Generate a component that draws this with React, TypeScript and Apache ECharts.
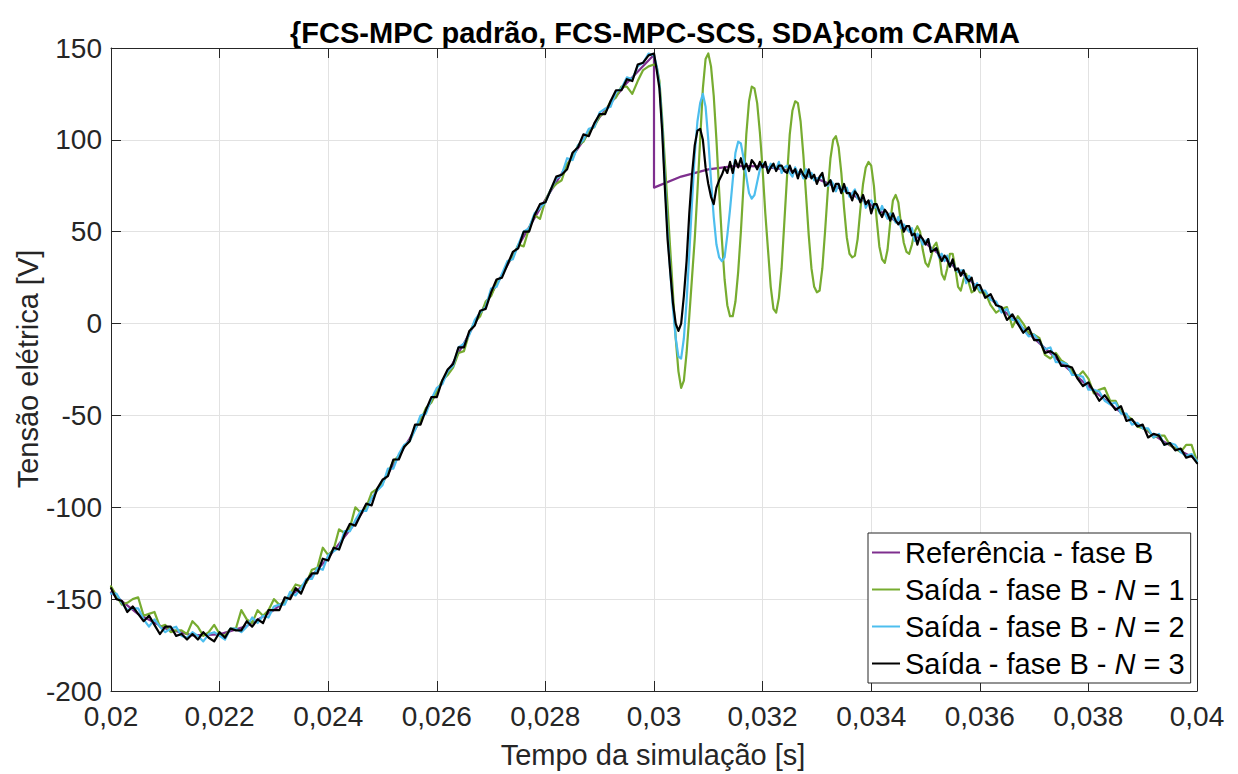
import React, { useEffect, useRef } from "react";
import * as echarts from "echarts";

const FONT = '"Liberation Sans", Arial, Helvetica, sans-serif';

// ---- sampling grids (seconds) ----
const GRID_A = { start: 0.02, step: 0.0001, count: 100 };
const GRID_B = { start: 0.03, step: 0.00005, count: 120 };
const GRID_C = { start: 0.036, step: 0.0001, count: 41 };
const REF_PRE = { start: 0.02, step: 0.0005, count: 21 };
const REF_POST = { start: 0.03, step: 0.0005, count: 21 };

// ---- reference (V) ----
const refPreValues = [
  -146.3, -158.1, -165.9, -169.7, -169.2, -164.7, -156.0, -143.5, -127.5, -108.4, -86.5,
  -62.6, -37.1, -10.7, 16.0, 42.3, 67.5, 91.1, 112.4, 131.0, 146.3,
];
const refPostValues = [
  74.0, 80.0, 83.9, 85.8, 85.6, 83.3, 78.9, 72.6, 64.5, 54.8, 43.8,
  31.7, 18.8, 5.4, -8.1, -21.4, -34.2, -46.1, -56.9, -66.3, -74.0,
];

// ---- N = 1 (green) ----
const greenA = [
  -143, -148, -153, -152, -150, -149, -159, -158, -157, -165,
  -164, -168, -167, -167, -169, -162, -165, -170, -168, -164,
  -169, -170, -166, -166, -156, -161, -163, -156, -159, -156,
  -150, -153, -152, -147, -142, -143, -141, -134, -133, -122,
  -126, -123, -112, -114, -111, -100, -103, -100, -92, -90,
  -87, -81, -75, -72, -67, -64, -57, -53, -46, -43,
  -37, -31, -28, -24, -16, -15, -5, 1, 4, 12,
  15, 22, 26, 33, 36, 43, 42, 52, 59, 57,
  67, 73, 76, 78, 87, 90, 97, 99, 105, 107,
  113, 115, 121, 123, 129, 129, 125, 132, 138, 140,
];
const greenB = [
  141, 140, 132, 112, 88, 64, 40, 16, -8, -26,
  -35, -31, -16, 4, 25, 46, 72, 100, 128, 144,
  147, 140, 124, 100, 72, 46, 24, 10, 4, 4,
  12, 28, 50, 76, 103, 121, 129, 128, 120, 104,
  84, 60, 40, 20, 8, 6, 14, 30, 55, 80,
  103, 116, 121, 120, 110, 92, 70, 48, 30, 20,
  17, 18, 30, 50, 72, 90, 100, 102, 96, 82,
  63, 47, 38, 36, 37, 46, 62, 76, 85, 88,
  86, 75, 57, 42, 35, 33, 40, 55, 67, 70,
  66, 54, 44, 39, 38, 43, 50, 53, 50, 40,
  33, 31, 36, 42, 44, 38, 27, 24, 30, 38,
  38, 30, 20, 18, 24, 27, 22, 17, 18, 20,
];
const greenC = [
  17, 17, 10, 6, 8, 9, -2, 4, 0, -5,
  -6, -8, -17, -19, -16, -20, -22, -26, -29, -26,
  -30, -38, -36, -35, -42, -42, -48, -50, -52, -56,
  -57, -58, -62, -61, -61, -66, -68, -70, -66, -66,
  -75,
];

// ---- N = 2 (blue) ----
const blueA = [
  -147, -147, -152, -156, -155, -155, -161, -165, -161, -165,
  -168, -166, -165, -170, -171, -168, -170, -173, -169, -168,
  -170, -172, -166, -166, -168, -165, -160, -163, -159, -160,
  -154, -153, -153, -146, -148, -144, -139, -139, -133, -134,
  -126, -124, -122, -113, -113, -107, -102, -102, -95, -91,
  -88, -79, -79, -71, -66, -64, -58, -50, -49, -41,
  -35, -33, -26, -23, -13, -11, -6, 2, 6, 9,
  19, 20, 27, 34, 35, 43, 50, 52, 60, 63,
  66, 73, 79, 81, 90, 89, 97, 100, 106, 107,
  115, 117, 118, 126, 128, 134, 133, 140, 142, 147,
];
const blueB = [
  146, 140, 130, 108, 78, 50, 28, 8, -8, -18,
  -19, -8, 12, 38, 66, 92, 110, 120, 125, 118,
  100, 78, 58, 43, 36, 34, 36, 48, 62, 78,
  93, 99, 98, 90, 80, 71, 68, 70, 77, 84,
  87, 87, 83, 87, 85, 84, 88, 82, 85, 86,
  82, 80, 85, 82, 83, 79, 84, 80, 82, 78,
  79, 79, 81, 76, 75, 78, 76, 72, 76, 73,
  72, 74, 69, 71, 73, 68, 68, 69, 63, 66,
  67, 63, 64, 60, 64, 60, 57, 60, 58, 55,
  58, 52, 54, 52, 50, 52, 45, 49, 47, 43,
  45, 46, 40, 40, 41, 36, 38, 34, 37, 31,
  34, 30, 28, 29, 29, 22, 26, 24, 20, 22,
];
const blueC = [
  18, 18, 13, 12, 6, 8, 2, 2, -3, -7,
  -6, -10, -14, -13, -21, -21, -22, -28, -28, -29,
  -36, -36, -37, -42, -44, -43, -49, -49, -55, -54,
  -57, -57, -62, -60, -66, -65, -66, -70, -72, -71,
  -75,
];

// ---- N = 3 (black) ----
const blackA = [
  -144, -150, -151, -157, -154, -158, -162, -159, -164, -169,
  -165, -165, -170, -169, -172, -169, -172, -168, -171, -173,
  -168, -171, -166, -167, -167, -162, -165, -161, -163, -156,
  -156, -156, -149, -150, -144, -147, -140, -136, -136, -128,
  -129, -122, -123, -115, -109, -110, -104, -98, -99, -90,
  -85, -83, -74, -74, -67, -64, -55, -55, -47, -40,
  -40, -31, -25, -22, -13, -13, -4, -1, 7, 8,
  17, 24, 25, 32, 39, 41, 50, 50, 59, 65,
  66, 73, 80, 81, 84, 93, 96, 103, 102, 109,
  114, 114, 121, 127, 127, 133, 132, 141, 142, 146,
];
const blackB = [
  147, 138, 128, 105, 74, 46, 28, 11, 0, -4,
  0, 15, 34, 60, 81, 97, 105, 106, 100, 85,
  76, 69, 65, 74, 78, 81, 85, 82, 88, 82,
  89, 85, 90, 84, 87, 83, 89, 87, 84, 88,
  85, 88, 82, 85, 87, 83, 86, 86, 83, 82,
  86, 82, 84, 79, 84, 81, 79, 84, 79, 81,
  76, 80, 82, 75, 76, 78, 72, 76, 76, 71,
  76, 71, 71, 67, 72, 70, 66, 70, 65, 67,
  60, 65, 65, 61, 58, 62, 60, 56, 60, 56,
  54, 56, 50, 53, 53, 48, 49, 43, 48, 46,
  43, 46, 39, 40, 41, 37, 34, 37, 35, 31,
  35, 29, 30, 26, 29, 25, 23, 25, 18, 21,
];
const blackC = [
  21, 14, 16, 10, 9, 2, 5, 0, -5, -2,
  -9, -9, -16, -15, -17, -23, -23, -24, -30, -34,
  -32, -37, -42, -39, -43, -47, -45, -53, -52, -56,
  -55, -62, -60, -61, -66, -65, -69, -68, -73, -72,
  -76,
];

// ---- axes ----
const X_MIN = 0.02;
const X_MAX = 0.04;
const X_STEP = 0.002;
const Y_MIN = -200;
const Y_MAX = 150;
const Y_STEP = 50;

const TITLE = "{FCS-MPC padrão, FCS-MPC-SCS, SDA}com CARMA";
const X_NAME = "Tempo da simulação [s]";
const Y_NAME = "Tensão elétrica [V]";
const NAMES = [
  "Referência - fase B",
  "Saída - fase B - N = 1",
  "Saída - fase B - N = 2",
  "Saída - fase B - N = 3",
];
const COLORS = ["#7E2F8E", "#77AC30", "#4DBEEE", "#000000"];

function grid(g: { start: number; step: number; count: number }) {
  const out: number[] = [];
  for (let i = 0; i < g.count; i++) out.push(+(g.start + i * g.step).toFixed(6));
  return out;
}
function zip(t: number[], v: number[]) {
  return t.map((x, i) => [x, v[i]]);
}

const outTime = [...grid(GRID_A), ...grid(GRID_B), ...grid(GRID_C)];
const refData = [...zip(grid(REF_PRE), refPreValues), ...zip(grid(REF_POST), refPostValues)];
const greenData = zip(outTime, [...greenA, ...greenB, ...greenC]);
const blueData = zip(outTime, [...blueA, ...blueB, ...blueC]);
const blackData = zip(outTime, [...blackA, ...blackB, ...blackC]);

export default function App() {
  const ref = useRef<HTMLDivElement>(null);
  useEffect(() => {
    if (!ref.current) return;
    const chart = echarts.init(ref.current, undefined, { renderer: "svg" });
    const axisColor = "#262626";
    const gridColor = "#e2e2e2";
    const xFmt = (v: number) => String(parseFloat(v.toFixed(4))).replace(".", ",");
    const baseX = {
      type: "value",
      min: X_MIN,
      max: X_MAX,
      interval: X_STEP,
      axisLine: { show: true, onZero: false, lineStyle: { color: axisColor, width: 1 } },
      axisTick: { show: true, inside: true, length: 10, lineStyle: { color: axisColor } },
    };
    const baseY = {
      type: "value",
      min: Y_MIN,
      max: Y_MAX,
      interval: Y_STEP,
      axisLine: { show: true, onZero: false, lineStyle: { color: axisColor, width: 1 } },
      axisTick: { show: true, inside: true, length: 10, lineStyle: { color: axisColor } },
    };
    const mkSeries = (i: number, data: number[][]) => ({
      name: NAMES[i],
      type: "line",
      data,
      symbol: "none",
      showSymbol: false,
      xAxisIndex: 0,
      yAxisIndex: 0,
      lineStyle: { color: COLORS[i], width: 2.2, join: "round", cap: "round" },
      itemStyle: { color: COLORS[i] },
      z: 2 + i,
    });
    chart.setOption({
      animation: false,
      backgroundColor: "#ffffff",
      grid: { left: 111, right: 41, top: 48, bottom: 83, containLabel: false },
      xAxis: [
        {
          ...baseX,
          position: "bottom",
          axisLabel: { fontSize: 28, fontFamily: FONT, color: axisColor, margin: 11, formatter: xFmt },
          splitLine: { show: true, lineStyle: { color: gridColor, width: 1 } },
        },
        {
          ...baseX,
          position: "top",
          axisLabel: { show: false },
          splitLine: { show: false },
        },
      ],
      yAxis: [
        {
          ...baseY,
          position: "left",
          axisLabel: { fontSize: 28, fontFamily: FONT, color: axisColor, margin: 9 },
          splitLine: { show: true, lineStyle: { color: gridColor, width: 1 } },
        },
        {
          ...baseY,
          position: "right",
          axisLabel: { show: false },
          splitLine: { show: false },
        },
      ],
      legend: {
        show: true,
        orient: "vertical",
        left: 868,
        top: 533,
        data: NAMES,
        icon: "rect",
        itemWidth: 28,
        itemHeight: 2,
        itemGap: 0,
        padding: [1, 6, 1, 4],
        backgroundColor: "#ffffff",
        borderColor: axisColor,
        borderWidth: 1,
        borderRadius: 0,
        formatter: (name: string) => name.replace("N =", "{i|N} ="),
        textStyle: {
          fontSize: 29,
          fontFamily: FONT,
          color: "#000000",
          lineHeight: 37,
          rich: {
            i: { fontSize: 29, fontFamily: FONT, fontStyle: "italic", color: "#000000", lineHeight: 37 },
          },
        },
      },
      graphic: [
        {
          type: "text",
          x: 655,
          y: 33,
          style: {
            text: TITLE,
            font: `bold 29px ${FONT}`,
            fill: "#000000",
            textAlign: "center",
            textVerticalAlign: "middle",
          },
        },
        {
          type: "text",
          x: 653,
          y: 755,
          style: {
            text: X_NAME,
            font: `29px ${FONT}`,
            fill: axisColor,
            textAlign: "center",
            textVerticalAlign: "middle",
          },
        },
        {
          type: "text",
          x: 28,
          y: 369,
          rotation: Math.PI / 2,
          style: {
            text: Y_NAME,
            font: `29px ${FONT}`,
            fill: axisColor,
            textAlign: "center",
            textVerticalAlign: "middle",
          },
        },
      ],
      series: [
        mkSeries(0, refData),
        mkSeries(1, greenData),
        mkSeries(2, blueData),
        mkSeries(3, blackData),
      ],
    });
    return () => chart.dispose();
  }, []);
  return (
    <div
      ref={ref}
      style={{ position: "fixed", left: 0, top: 0, width: 1238, height: 774, background: "#fff" }}
    />
  );
}
